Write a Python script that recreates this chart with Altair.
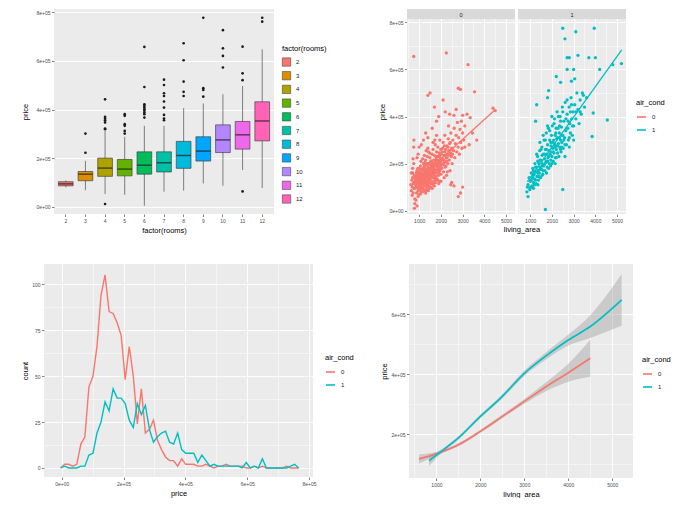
import altair as alt
import pandas as pd

FONT = "Liberation Sans"
RED, CYAN = "#F8766D", "#00BFC4"
AC_LEVELS = ["0", "1"]

# ---------------- top-left: boxplot of price by rooms (prices in thousands) ----------------
rooms = ["2", "3", "4", "5", "6", "7", "8", "9", "10", "11", "12"]
room_colors = ["#F8766D", "#DB8E00", "#AEA200", "#64B200", "#00BD5C", "#00C1A7",
               "#00BADE", "#00A6FF", "#B385FF", "#EF67EB", "#FF63B6"]
box_low = [80, 68, 52, 49, 4, 62, 66, 96, 86, 151, 77]
box_q1 = [86, 107, 125, 127, 134, 143, 158, 188, 223, 237, 271]
box_med = [94, 134, 159, 155, 171, 181, 211, 229, 275, 296, 353]
box_q3 = [103, 145, 200, 195, 226, 226, 269, 288, 337, 351, 432]
box_high = [108, 189, 312, 288, 333, 333, 406, 425, 463, 497, 648]
out_rooms = ["3", "3",
             "4", "4", "4", "4", "4", "4", "4", "4",
             "5", "5", "5", "5", "5", "5",
             "6", "6", "6", "6", "6", "6", "6", "6", "6", "6",
             "7", "7", "7", "7", "7", "7", "7", "7", "7",
             "8", "8", "8", "8", "8",
             "9", "9", "9", "9",
             "10", "10", "10", "10",
             "11", "11", "11", "11",
             "12", "12"]
out_price = [301, 222,
             11, 442, 370, 363, 356, 347, 322, 319,
             381, 374, 340, 333, 312, 301,
             658, 493, 422, 415, 408, 401, 395, 388, 381, 367,
             523, 501, 467, 456, 433, 408, 378, 363, 356,
             673, 603, 515, 473, 456,
             778, 488, 481, 453,
             727, 652, 621, 573,
             63, 659, 549, 521,
             778, 762]

# ---------------- top-right: scatter living_area vs price (price in thousands) ----------------
no_ac_points = [
    (620, 110), (640, 85), (660, 130), (680, 100), (700, 140), (720, 75), (740, 120), (760, 95),
    (780, 150), (640, 160), (680, 65), (700, 180), (750, 200), (780, 115),
    (800, 95), (820, 130), (850, 110), (870, 160), (880, 75), (900, 120), (910, 140), (920, 100),
    (940, 180), (950, 85), (960, 130), (970, 155), (980, 115), (990, 70), (1000, 140), (1010, 105),
    (1020, 165), (1030, 125), (1040, 90), (1050, 150), (1060, 190), (1070, 110), (1080, 135),
    (1090, 80), (1100, 160), (1110, 120), (1120, 145), (1130, 100), (1140, 175), (1150, 130),
    (1160, 95), (1170, 155), (1180, 115), (1190, 200), (1200, 140),
    (1210, 170), (1220, 105), (1230, 150), (1240, 125), (1250, 190), (1260, 85), (1270, 160),
    (1280, 135), (1290, 215), (1300, 115), (1310, 175), (1320, 145), (1330, 100), (1340, 195),
    (1350, 155), (1360, 130), (1370, 230), (1380, 165), (1390, 110), (1400, 185), (1410, 140),
    (1420, 250), (1430, 160), (1440, 120), (1450, 200), (1460, 175), (1470, 95), (1480, 150),
    (1490, 225), (1500, 135), (1510, 180), (1520, 160), (1530, 115), (1540, 210), (1550, 145),
    (1560, 190), (1570, 170), (1580, 125), (1590, 240), (1600, 155),
    (1610, 200), (1620, 140), (1630, 180), (1640, 260), (1650, 165), (1660, 120), (1670, 215),
    (1680, 190), (1690, 150), (1700, 235), (1710, 175), (1720, 130), (1730, 205), (1740, 280),
    (1750, 160), (1760, 190), (1770, 145), (1780, 225), (1790, 170), (1800, 250), (1810, 200),
    (1820, 135), (1830, 185), (1840, 215), (1850, 160), (1860, 270), (1870, 195), (1880, 230),
    (1890, 150), (1900, 210), (1910, 180), (1920, 245), (1930, 125), (1940, 200), (1950, 300),
    (1960, 170), (1970, 225), (1980, 190), (1990, 260), (2000, 155),
    (2020, 215), (2040, 180), (2060, 250), (2080, 200), (2100, 290), (2120, 165), (2140, 235),
    (2160, 205), (2180, 320), (2200, 185), (2220, 260), (2240, 225), (2260, 150), (2280, 275),
    (2300, 240), (2320, 200), (2340, 305), (2360, 255), (2380, 215), (2400, 285), (2420, 170),
    (2440, 245), (2460, 330), (2480, 230), (2500, 265),
    (2520, 200), (2550, 300), (2580, 255), (2610, 350), (2640, 225), (2670, 285), (2700, 320),
    (2730, 250), (2760, 375), (2790, 270), (2820, 310), (2850, 240), (2880, 345), (2910, 290),
    (2940, 380), (2970, 265), (3000, 330), (3050, 300), (3100, 360),
    (3200, 410), (3300, 280), (3350, 395), (3450, 330), (3650, 300), (4400, 435), (4500, 425),
    (3100, 270),
    (750, 655), (2250, 670), (3250, 620), (2800, 520), (2900, 515), (3550, 505), (1500, 500),
    (1400, 490), (2100, 470), (1700, 440), (2600, 405), (3000, 405), (1900, 400), (2400, 410),
    (3000, 100), (2800, 60), (2900, 75), (2500, 120), (2450, 110), (2600, 105), (800, 30),
    (780, 10), (900, 20), (800, 50), (850, 45), (700, 160), (720, 220), (750, 270), (760, 300),
    (900, 225), (950, 240), (1000, 270), (1100, 280), (1200, 300), (1300, 330), (1400, 310),
    (1600, 350), (1800, 380), (2200, 420), (2350, 360), (2700, 430),
    (830, 140), (870, 125), (930, 150), (990, 165), (1040, 135), (1090, 175), (1130, 160),
    (1170, 140), (1230, 185), (1270, 205), (1320, 170), (1370, 150), (1410, 200), (1460, 130),
    (1510, 145), (1560, 210), (1610, 175), (1660, 160), (1710, 195), (1760, 215), (1810, 165),
    (1860, 205), (1910, 195), (1960, 185), (2010, 240), (2060, 220), (2110, 195), (2160, 275),
    (2210, 235), (2260, 210), (1250, 110), (1150, 80), (1050, 70), (950, 60), (1350, 90),
    (1450, 105), (1550, 100), (1650, 110), (1750, 120), (1850, 130),
    (860, 100), (890, 145), (930, 115), (960, 95), (1010, 150), (1060, 120), (1100, 95),
    (1140, 150), (1180, 180), (1220, 130), (1260, 145), (1300, 160), (1340, 120), (1380, 200),
    (1420, 175), (1460, 150), (1500, 195), (1540, 165), (1580, 205), (1620, 160), (1660, 185),
    (1700, 170), (1740, 140), (1780, 195), (1820, 230), (1860, 175), (1900, 160), (1940, 235),
    (1980, 210), (2030, 195), (2080, 265), (2130, 215), (2180, 250), (2230, 190), (2280, 225),
    (2330, 270), (2380, 235), (2430, 290), (2480, 260), (2530, 240), (1000, 180), (1080, 210),
    (1160, 220), (1240, 235), (1320, 255), (1400, 265), (1480, 245), (1640, 290), (1720, 300),
    (1800, 320), (900, 170), (1200, 90), (1300, 75), (1420, 85), (1600, 95), (1700, 105),
    (1900, 115), (2000, 125), (2150, 140), (2300, 165),
]
ac_points = [
    (900, 110), (950, 140), (980, 90), (1000, 125), (1050, 160), (1080, 105), (1100, 140),
    (1120, 180), (1150, 120), (1180, 155), (1200, 135), (1220, 200), (1250, 165), (1270, 115),
    (1300, 185), (1320, 145), (1340, 230), (1360, 170), (1380, 130), (1400, 200), (1420, 160),
    (1440, 255), (1460, 185), (1480, 140), (1500, 215), (1520, 175), (1540, 270), (1560, 200),
    (1580, 155), (1600, 240), (1620, 190), (1640, 300), (1660, 220), (1680, 170), (1700, 260),
    (1720, 205), (1740, 330), (1760, 240), (1780, 185), (1800, 280), (1820, 225), (1840, 350),
    (1860, 255), (1880, 200), (1900, 300), (1920, 240), (1940, 190), (1960, 275), (1980, 320),
    (2000, 230), (2020, 360), (2040, 265), (2060, 210), (2080, 300), (2100, 245), (2120, 390),
    (2140, 280), (2160, 225), (2180, 330), (2200, 260), (2220, 305), (2240, 420), (2260, 245),
    (2280, 350), (2300, 285), (2320, 230), (2340, 330), (2360, 270), (2380, 400), (2400, 300),
    (2420, 250), (2440, 355), (2460, 290), (2480, 440), (2500, 320), (2520, 265), (2550, 380),
    (2580, 310), (2610, 460), (2640, 340), (2670, 280), (2700, 410), (2730, 350), (2760, 300),
    (2790, 440), (2820, 370), (2850, 330), (2880, 480), (2910, 390), (2940, 320), (2970, 420),
    (3000, 360), (3050, 450), (3100, 390), (3150, 500), (3200, 430), (3250, 370), (3300, 470),
    (3350, 410), (3450, 490), (3500, 440), (3600, 480),
    (1100, 100), (1150, 170), (1250, 130), (1350, 210), (1450, 175), (1550, 150), (1650, 195),
    (1750, 210), (1850, 180), (1950, 250), (2050, 290), (2150, 320), (2250, 275), (2350, 310),
    (2450, 270), (2150, 200), (1950, 215), (1750, 160), (1550, 235), (1350, 110), (1150, 95),
    (2600, 230), (2800, 270), (3000, 300), (2400, 380), (2200, 350), (2000, 400), (1800, 360),
    (1600, 320), (1450, 290),
    (850, 80), (900, 60), (870, 100), (2500, 775), (3950, 775), (3100, 760), (2600, 730),
    (3200, 660), (2700, 650), (2800, 650), (3700, 650), (4000, 650), (2700, 600), (3000, 600),
    (2200, 570), (2900, 550), (3050, 560), (4200, 600), (4800, 620), (5200, 625), (4550, 385),
    (3850, 315), (3900, 415), (2500, 90), (1700, 5), (1300, 450), (1850, 510), (1800, 480),
    (1250, 380), (2400, 545), (3400, 500), (3300, 420),
    (1050, 130), (1150, 150), (1250, 185), (1350, 160), (1450, 215), (1550, 190), (1650, 240),
    (1750, 260), (1850, 230), (1950, 290), (2050, 250), (2150, 270), (2250, 310), (2350, 360),
    (2450, 320), (2550, 300), (2650, 390), (2750, 380), (2850, 420), (2950, 360), (1000, 100),
    (1200, 110), (1400, 145), (1600, 170), (1800, 210), (2000, 200), (2200, 225), (2400, 260),
    (2600, 280), (2800, 310), (1300, 240), (1500, 260), (1700, 300), (1900, 340), (2100, 370),
    (2300, 400), (2500, 420), (2700, 470), (2900, 450), (3100, 420),
]
# linear fits as drawn (endpoints)
fit_area_0 = [620, 4470]
fit_price_0 = [104, 427]
fit_area_1 = [870, 5213]
fit_price_1 = [123, 683]

# ---------------- bottom-left: frequency polygon of price (thousands) ----------------
freq_bins = [-3.4, 9.7, 22.8, 35.8, 48.9, 61.9, 75.0, 88.0, 101.1, 114.1, 127.2, 140.2, 153.3,
             166.3, 179.4, 192.4, 205.5, 218.5, 231.6, 244.6, 257.7, 270.7, 283.8, 296.8, 309.9,
             322.9, 336.0, 349.0, 362.1, 375.1, 388.2, 401.2, 414.3, 427.3, 440.4, 453.4, 466.5,
             479.5, 492.6, 505.6, 518.7, 531.7, 544.8, 557.8, 570.9, 583.9, 597.0, 610.0, 623.1,
             636.1, 649.2, 662.2, 675.3, 688.3, 701.4, 714.4, 727.5, 740.5, 753.6, 766.6]
count_no_ac = [0, 2, 2, 1, 2, 13, 17, 44, 50, 66, 94,
               105, 85, 84, 79, 72, 48, 66, 50, 24, 43,
               19, 21, 26, 15, 10, 6, 4, 4, 1, 5,
               2, 2, 2, 1, 1, 2, 1, 0, 1, 1,
               2, 1, 1, 1, 1, 0, 0, 1, 0, 1,
               0, 0, 0, 0, 0, 1, 0, 0, 0]
count_ac = [0, 1, 0, 0, 0, 1, 1, 7, 8, 19, 25,
            36, 31, 43, 38, 38, 35, 26, 22, 35, 29,
            34, 21, 14, 17, 19, 20, 14, 13, 19, 10,
            8, 8, 8, 3, 7, 4, 1, 2, 1, 1,
            1, 1, 1, 1, 0, 3, 0, 1, 0, 5,
            0, 0, 0, 0, 0, 0, 1, 2, 0]

# ---------------- bottom-right: loess smooths with bands (price thousands) ----------------
sm_area_0 = [605, 1000, 1500, 2000, 2500, 3000, 3500, 4000, 4500]
sm_fit_0 = [117, 134, 164, 209, 259, 309, 359, 405, 453]
sm_half_0 = [15, 6, 5, 5, 6, 8, 15, 30, 62]
sm_area_1 = [833, 1000, 1500, 2000, 2500, 3000, 3500, 4000, 4500, 5213]
sm_fit_1 = [111, 130, 187, 259, 326, 403, 462, 514, 559, 648]
sm_half_1 = [18, 10, 6, 6, 7, 9, 12, 18, 38, 86]

# ======================= build tables =======================
box_df = pd.DataFrame({"rooms": rooms, "low": [v * 1000 for v in box_low],
                       "q1": [v * 1000 for v in box_q1], "med": [v * 1000 for v in box_med],
                       "q3": [v * 1000 for v in box_q3], "high": [v * 1000 for v in box_high]})
out_df = pd.DataFrame({"rooms": out_rooms, "price": [v * 1000 for v in out_price]})
sc_df = pd.concat([
    pd.DataFrame({"living_area": [p[0] for p in no_ac_points],
                  "price": [p[1] * 1000 for p in no_ac_points], "air_cond": "0", "kind": "pt"}),
    pd.DataFrame({"living_area": [p[0] for p in ac_points],
                  "price": [p[1] * 1000 for p in ac_points], "air_cond": "1", "kind": "pt"}),
    pd.DataFrame({"living_area": fit_area_0, "price": [v * 1000 for v in fit_price_0],
                  "air_cond": "0", "kind": "fit"}),
    pd.DataFrame({"living_area": fit_area_1, "price": [v * 1000 for v in fit_price_1],
                  "air_cond": "1", "kind": "fit"}),
], ignore_index=True)
fp_df = pd.DataFrame({"price": [b * 1000 for b in freq_bins] * 2,
                      "count": count_no_ac + count_ac,
                      "air_cond": ["0"] * len(freq_bins) + ["1"] * len(freq_bins)})
sm_df = pd.DataFrame({
    "living_area": sm_area_0 + sm_area_1,
    "fit": [v * 1000 for v in sm_fit_0 + sm_fit_1],
    "lo": [(f - h) * 1000 for f, h in zip(sm_fit_0, sm_half_0)] + [(f - h) * 1000 for f, h in zip(sm_fit_1, sm_half_1)],
    "hi": [(f + h) * 1000 for f, h in zip(sm_fit_0, sm_half_0)] + [(f + h) * 1000 for f, h in zip(sm_fit_1, sm_half_1)],
    "air_cond": ["0"] * len(sm_area_0) + ["1"] * len(sm_area_1),
})

# ======================= helpers =======================
SCI = "replace(format(datum.value, '.0e'), 'e+', 'e+0')"


def grid_axis(title, values, major_test, label_expr, **kw):
    minor = "!(" + major_test + ")"
    d = dict(
        title=title, values=values,
        labelExpr="(" + major_test + ") ? " + label_expr + " : ''",
        gridWidth={"condition": {"test": minor, "value": 0.45}, "value": 0.9},
        tickOpacity={"condition": {"test": minor, "value": 0}, "value": 1},
        labelOverlap=False,
    )
    d.update(kw)
    return alt.Axis(**d)


ac_scale = alt.Scale(domain=AC_LEVELS, range=[RED, CYAN])


def ac_legend(x, y, sym="stroke"):
    return alt.Legend(title="air_cond", orient="none", legendX=x, legendY=y, symbolType=sym,
                      symbolSize=80, symbolStrokeWidth=1.6, rowPadding=4, titlePadding=5)


def spacer():
    # invisible zero-extent cell that anchors each row at the left edge
    return alt.Chart(pd.DataFrame({"s": [0]})).mark_rect(opacity=0).encode(
        x=alt.value(0), x2=alt.value(0), y=alt.value(0), y2=alt.value(0)).properties(
        width=1, height=1, view=alt.ViewBackground(fill="#FFFFFF", stroke="#FFFFFF", strokeWidth=0))


# ======================= A: boxplot =======================
xA = alt.X("rooms:N", sort=rooms,
           scale=alt.Scale(domain=rooms, paddingInner=0.25, paddingOuter=0.225),
           axis=alt.Axis(title="factor(rooms)", labelAngle=0, bandPosition=0.5, gridWidth=0.9))
yA_scale = alt.Scale(domain=[-30000, 814000], nice=False, zero=False)
yA_axis = grid_axis("price", [i * 100000 for i in range(9)], "datum.value % 200000 == 0", SCI,
                    titlePadding=6)
whisk = alt.Chart(box_df).mark_rule(color="#333333", strokeWidth=0.6).encode(
    x=xA, y=alt.Y("low:Q", scale=yA_scale, axis=yA_axis), y2="high:Q")
boxes = alt.Chart(box_df).mark_bar(stroke="#333333", strokeWidth=0.6).encode(
    x=xA, y=alt.Y("q1:Q", scale=yA_scale), y2="q3:Q",
    fill=alt.Fill("rooms:N", sort=rooms, scale=alt.Scale(domain=rooms, range=room_colors),
                  legend=alt.Legend(title="factor(rooms)", orient="none", legendX=228, legendY=36,
                                    symbolType="square", symbolSize=70, symbolStrokeColor="#333333",
                                    symbolStrokeWidth=0.5, rowPadding=2.7, titlePadding=5)))
meds = alt.Chart(box_df).mark_tick(color="#1A1A1A", thickness=1.4, size=14.5).encode(
    x=xA, y=alt.Y("med:Q", scale=yA_scale))
outs = alt.Chart(out_df).mark_circle(color="#1A1A1A", size=7, opacity=1).encode(
    x=alt.X("rooms:N", sort=rooms), y=alt.Y("price:Q", scale=yA_scale))
A = alt.layer(whisk, boxes, meds, outs).properties(width=220, height=205)

# ======================= B: faceted scatter (strip drawn inside the cell top) =======================
xB_scale = alt.Scale(domain=[440, 5410], nice=False, zero=False)
# lower 195 px show -14.2k .. 814k; the top 10 px hold the facet strip
yB_scale = alt.Scale(domain=[-14200, 856700], nice=False, zero=False)
xB_vals = [500 + 500 * i for i in range(10)]
yB_vals = [i * 100000 for i in range(9)]
xB = alt.X("living_area:Q", scale=xB_scale,
           axis=grid_axis(None, xB_vals, "datum.value % 1000 == 0", "format(datum.value, 'd')"))
yB = alt.Y("price:Q", scale=yB_scale,
           axis=grid_axis("price", yB_vals, "datum.value % 200000 == 0", SCI, titlePadding=2))
colB = alt.Color("air_cond:N", scale=ac_scale, legend=ac_legend(229, 90))

pts = alt.Chart().mark_circle(size=11, opacity=1).encode(x=xB, y=yB, color=colB
                                                          ).transform_filter("datum.kind == 'pt'")
fitl = alt.Chart().mark_line(strokeWidth=1.3).encode(x=xB, y=yB, color=colB
                                                      ).transform_filter("datum.kind == 'fit'")
strip_bg = alt.Chart().mark_rect(color="#D9D9D9").encode(
    x=alt.value(0), x2=alt.value(108), y=alt.value(0), y2=alt.value(10)
).transform_aggregate(n="count()", groupby=["air_cond"])
strip_tx = alt.Chart().mark_text(fontSize=5.5, color="#1A1A1A", font=FONT, align="center",
                                 baseline="middle").encode(
    text="air_cond:N", x=alt.value(54), y=alt.value(5.5)
).transform_aggregate(n="count()", groupby=["air_cond"])
B = alt.layer(pts, fitl, strip_bg, strip_tx, data=sc_df).properties(width=108, height=205).facet(
    column=alt.Column("air_cond:N", header=alt.Header(labels=False, title=None)), spacing=3
).properties(title=alt.TitleParams("living_area", orient="bottom", anchor="middle", font=FONT,
                                   fontSize=7.5, fontWeight="normal", color="#000000", offset=3))

# ======================= C: freqpoly =======================
C = alt.Chart(fp_df).mark_line(strokeWidth=1.4).encode(
    x=alt.X("price:Q", scale=alt.Scale(domain=[-57300, 813000], nice=False, zero=False),
            axis=grid_axis("price", [i * 100000 for i in range(9)], "datum.value % 200000 == 0", SCI)),
    y=alt.Y("count:Q", scale=alt.Scale(domain=[-4.9, 110.9], nice=False, zero=False),
            axis=grid_axis("count", [i * 12.5 for i in range(9)], "datum.value % 25 == 0",
                           "format(datum.value, 'd')", titlePadding=2.5)),
    color=alt.Color("air_cond:N", scale=ac_scale, legend=ac_legend(281, 90)),
).properties(width=269, height=213)

# ======================= D: smooths =======================
xD = alt.Scale(domain=[376, 5471], nice=False, zero=False)
yD = alt.Scale(domain=[53300, 767800], nice=False, zero=False)
xD_axis = grid_axis("living_area", xB_vals, "datum.value % 1000 == 0", "format(datum.value, 'd')")
yD_axis = grid_axis("price", [i * 100000 for i in range(1, 8)], "datum.value % 200000 == 0", SCI,
                    titlePadding=2)
band = alt.Chart(sm_df).mark_area(color="#999999", opacity=0.4, interpolate="monotone").encode(
    x=alt.X("living_area:Q", scale=xD, axis=xD_axis),
    y=alt.Y("lo:Q", scale=yD, axis=yD_axis),
    y2="hi:Q", detail="air_cond:N")
smooth = alt.Chart(sm_df).mark_line(strokeWidth=1.7, interpolate="monotone").encode(
    x=alt.X("living_area:Q", scale=xD, axis=xD_axis), y=alt.Y("fit:Q", scale=yD, axis=yD_axis),
    color=alt.Color("air_cond:N", scale=ac_scale, legend=ac_legend(233, 92)))
D = alt.layer(band, smooth).properties(width=224, height=214)

# ======================= compose =======================
top_pair = alt.hconcat(A, B, spacing=51).resolve_scale(color="independent", fill="independent"
                                                       ).resolve_legend(color="independent", fill="independent")
top = alt.hconcat(spacer(), top_pair, spacing=0).resolve_scale(
    color="independent", fill="independent").resolve_legend(color="independent", fill="independent")
bottom_pair = alt.hconcat(C, D, spacing=26).resolve_scale(color="independent").resolve_legend(color="independent")
bottom = alt.hconcat(spacer(), bottom_pair, spacing=0).resolve_scale(
    color="independent").resolve_legend(color="independent")
chart = alt.concat(top, bottom, columns=1, align="none", spacing=30).resolve_scale(
    color="independent", fill="independent").resolve_legend(color="independent", fill="independent")

chart = chart.properties(
    padding={"left": 20, "top": 9, "right": 0, "bottom": 0}, background="white"
).configure_view(fill="#EBEBEB", stroke=None).configure_axis(
    labelFont=FONT, titleFont=FONT, labelFontSize=5, titleFontSize=7.5, labelColor="#4D4D4D",
    titleColor="#000000", titleFontWeight="normal", domain=False, tickColor="#333333",
    tickSize=2.5, tickWidth=0.6, gridColor="#FFFFFF", labelPadding=1.5, titlePadding=3,
).configure_legend(
    labelFont=FONT, titleFont=FONT, labelFontSize=6, titleFontSize=7.5, titleFontWeight="normal",
    labelColor="#1A1A1A", titleColor="#000000", labelOffset=5,
)

chart.save("out.html", embed_options={"renderer": "svg", "actions": False})
